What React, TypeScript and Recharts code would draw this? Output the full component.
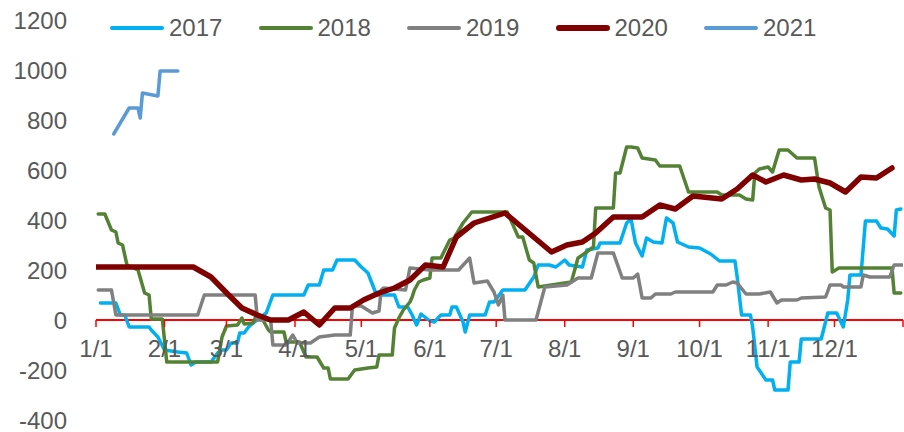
import React from 'react';
import { LineChart, Line, XAxis, YAxis, ReferenceLine } from 'recharts';

// ---- data (day of year, value) ----
const s2017: [number, number][] = [
  [2, 68], [9, 68], [11, 20], [13, 20], [15, -28], [24, -28], [25, -40], [28, -68], [31, -120],
  [37, -128], [41, -132], [43, -180], [45, -168], [52, -168], [55, -132], [57, -120], [59, -120],
  [61, -92], [64, -92], [65, -52], [67, -52], [69, -28], [71, -12], [74, 8], [77, 28], [80, 100],
  [94, 100], [96, 140], [101, 140], [103, 200], [107, 200], [109, 240], [117, 240], [120, 212],
  [123, 188], [126, 120], [127, 100], [135, 100], [137, 52], [141, 52], [143, 20], [145, -20],
  [147, 24], [151, -4], [153, -8], [156, 20], [160, 20], [161, 52], [163, 52], [166, -8],
  [167, -48], [169, 20], [176, 20], [178, 72], [180, 72], [184, 120], [194, 120], [198, 172],
  [200, 220], [205, 220], [208, 212], [212, 240], [214, 220], [220, 212], [222, 280], [227, 288],
  [228, 308], [237, 308], [240, 388], [242, 404], [244, 308], [247, 256], [249, 328], [252, 312],
  [256, 308], [258, 408], [261, 388], [263, 312], [264, 308], [268, 292], [273, 288], [278, 264],
  [282, 236], [289, 236], [290, 172], [292, 20], [296, 20], [297, -28], [299, -188], [303, -240],
  [306, -240], [307, -280], [313, -280], [314, -168], [318, -168], [319, -76], [328, -76],
  [331, 28], [335, 28], [338, -28], [340, 80], [341, 180], [346, 180], [348, 396], [353, 396],
  [355, 368], [358, 364], [361, 336], [362, 440], [364, 444],
];

const s2018: [number, number][] = [
  [1, 424], [4, 424], [7, 360], [9, 352], [10, 308], [12, 300], [14, 220], [19, 200], [22, 108],
  [24, 100], [25, 4], [30, 4], [32, -168], [55, -168], [57, -68], [59, -24], [64, -20], [66, 8],
  [67, -16], [71, -12], [72, 8], [75, 8], [78, -40], [79, -48], [85, -48], [86, -88], [92, -88],
  [95, -148], [100, -148], [103, -192], [105, -192], [106, -236], [114, -236], [117, -200],
  [123, -192], [127, -188], [128, -140], [134, -140], [135, -32], [137, 8], [139, 40], [142, 72],
  [143, 92], [144, 120], [146, 152], [148, 160], [151, 168], [152, 248], [156, 248], [160, 320],
  [162, 328], [166, 388], [170, 432], [186, 432], [189, 372], [191, 332], [193, 332], [196, 240],
  [198, 228], [200, 132], [215, 152], [218, 248], [220, 260], [225, 292], [226, 448], [234, 448],
  [235, 588], [237, 588], [240, 692], [242, 692], [245, 688], [247, 648], [253, 640], [255, 616],
  [264, 616], [268, 512], [281, 512], [283, 500], [291, 500], [294, 484], [297, 480], [298, 588],
  [300, 604], [304, 612], [306, 592], [309, 680], [313, 680], [317, 648], [325, 648], [327, 532],
  [330, 448], [332, 440], [333, 192], [336, 208], [360, 208], [361, 108], [364, 108],
];

const s2019: [number, number][] = [
  [1, 120], [7, 120], [9, 20], [46, 20], [49, 100], [72, 100], [73, 0], [79, 0], [80, -100],
  [86, -100], [89, -60], [91, -92], [97, -92], [101, -68], [108, -60], [115, -60], [116, 56],
  [120, 56], [125, 28], [128, 36], [129, 120], [130, 128], [140, 120], [142, 208], [151, 200],
  [164, 200], [169, 248], [171, 148], [177, 156], [180, 112], [182, 60], [184, 100], [185, 0],
  [199, 0], [203, 132], [213, 140], [218, 168], [224, 168], [227, 268], [234, 268], [238, 168],
  [243, 168], [245, 184], [247, 88], [251, 88], [253, 104], [260, 104], [262, 112], [279, 112],
  [281, 140], [285, 140], [288, 152], [290, 148], [294, 104], [300, 104], [305, 112], [308, 68],
  [310, 80], [317, 80], [319, 88], [330, 92], [332, 140], [337, 140], [338, 132], [346, 132],
  [347, 180], [350, 172], [359, 172], [361, 220], [365, 220],
];

const s2020: [number, number][] = [
  [0, 212], [44, 212], [52, 172], [60, 100], [66, 48], [73, 20], [79, 0], [87, 0], [94, 32],
  [101, -20], [108, 48], [115, 48], [121, 80], [128, 108], [135, 128], [142, 160], [149, 220],
  [157, 212], [163, 332], [171, 388], [185, 428], [206, 272], [213, 300], [220, 312], [226, 348],
  [234, 412], [247, 412], [255, 460], [262, 444], [270, 496], [283, 484], [290, 524], [297, 580],
  [303, 552], [311, 580], [319, 560], [325, 564], [332, 548], [339, 512], [346, 572], [353, 568],
  [360, 608],
];

const s2021: [number, number][] = [
  [8, 744], [15, 848], [19, 848], [20, 808], [21, 908], [28, 896], [29, 996], [37, 996],
];

const seriesNames = ['2017', '2018', '2019', '2020', '2021'];
const seriesColors = ['#00B0F0', '#548235', '#808080', '#800000', '#5B9BD5'];
const seriesWidths = [3.5, 3.5, 3.5, 5.5, 3.5];
const seriesPoints = [s2017, s2018, s2019, s2020, s2021];

const monthTickDays = [0, 31, 59, 90, 120, 151, 181, 212, 243, 273, 304, 334, 365];
const monthTickLabels = ['1/1', '2/1', '3/1', '4/1', '5/1', '6/1', '7/1', '8/1', '9/1', '10/1', '11/1', '12/1', ''];
const yTicks = [-400, -200, 0, 200, 400, 600, 800, 1000, 1200];

// ---- layout ----
const W = 904;
const H = 432;
const Y_MIN = -400;
const Y_MAX = 1200;
const PLOT_TOP = 20;
const PLOT_BOTTOM_MARGIN = 0;
const X_AXIS_H = 12;
const PLOT_H = H - PLOT_TOP - PLOT_BOTTOM_MARGIN - X_AXIS_H;
const FONT = '"Liberation Sans", Arial, sans-serif';
const TEXT_COLOR = '#595959';
const FONT_SIZE = 24;

const zeroY = PLOT_TOP + (PLOT_H * (Y_MAX - 0)) / (Y_MAX - Y_MIN);

const XTick = (props: any) => {
  const { x, payload } = props;
  const idx = monthTickDays.indexOf(payload.value);
  const label = idx >= 0 ? monthTickLabels[idx] : '';
  return (
    <g>
      <line x1={x} x2={x} y1={zeroY} y2={zeroY + 7} stroke="#FF0000" strokeWidth={1.5} />
      {label ? (
        <text x={x} y={zeroY + 37} textAnchor="middle" fontSize={FONT_SIZE} fontFamily={FONT} fill={TEXT_COLOR}>
          {label}
        </text>
      ) : null}
    </g>
  );
};

const YTick = (props: any) => {
  const { y, payload } = props;
  return (
    <text x={67} y={y} dy={8.5} textAnchor="end" fontSize={FONT_SIZE} fontFamily={FONT} fill={TEXT_COLOR}>
      {payload.value}
    </text>
  );
};

export default function App() {
  return (
    <div style={{ position: 'absolute', left: 0, top: 0, width: W, height: H, background: '#fff' }}>
      <LineChart
        width={W}
        height={H}
        margin={{ top: PLOT_TOP, right: 1, bottom: PLOT_BOTTOM_MARGIN, left: 0 }}
      >
        <XAxis
          type="number"
          dataKey="d"
          domain={[0, 365]}
          ticks={monthTickDays}
          allowDataOverflow
          axisLine={false}
          tickLine={false}
          height={X_AXIS_H}
          tick={<XTick />}
          interval={0}
        />
        <YAxis
          type="number"
          domain={[Y_MIN, Y_MAX]}
          ticks={yTicks}
          axisLine={false}
          tickLine={false}
          width={96}
          tick={<YTick />}
          interval={0}
        />
        <ReferenceLine y={0} stroke="#FF0000" strokeWidth={2} />
        {seriesNames.map((name, i) => (
          <Line
            key={name}
            name={name}
            data={seriesPoints[i].map(([d, v]) => ({ d, v }))}
            dataKey="v"
            type="linear"
            stroke={seriesColors[i]}
            strokeWidth={seriesWidths[i]}
            strokeLinejoin="round"
            strokeLinecap="round"
            dot={false}
            activeDot={false}
            isAnimationActive={false}
          />
        ))}
      </LineChart>
      <div
        style={{
          position: 'absolute',
          left: 110,
          top: 14,
          display: 'flex',
          fontFamily: FONT,
          fontSize: FONT_SIZE,
          color: TEXT_COLOR,
          lineHeight: '28px',
        }}
      >
        {seriesNames.map((name, i) => (
          <div key={name} style={{ display: 'flex', alignItems: 'center', width: 148.5, height: 28 }}>
            <div
              style={{
                width: 54,
                height: seriesWidths[i],
                background: seriesColors[i],
                borderRadius: 3,
                marginRight: 5,
              }}
            />
            <span>{name}</span>
          </div>
        ))}
      </div>
    </div>
  );
}
